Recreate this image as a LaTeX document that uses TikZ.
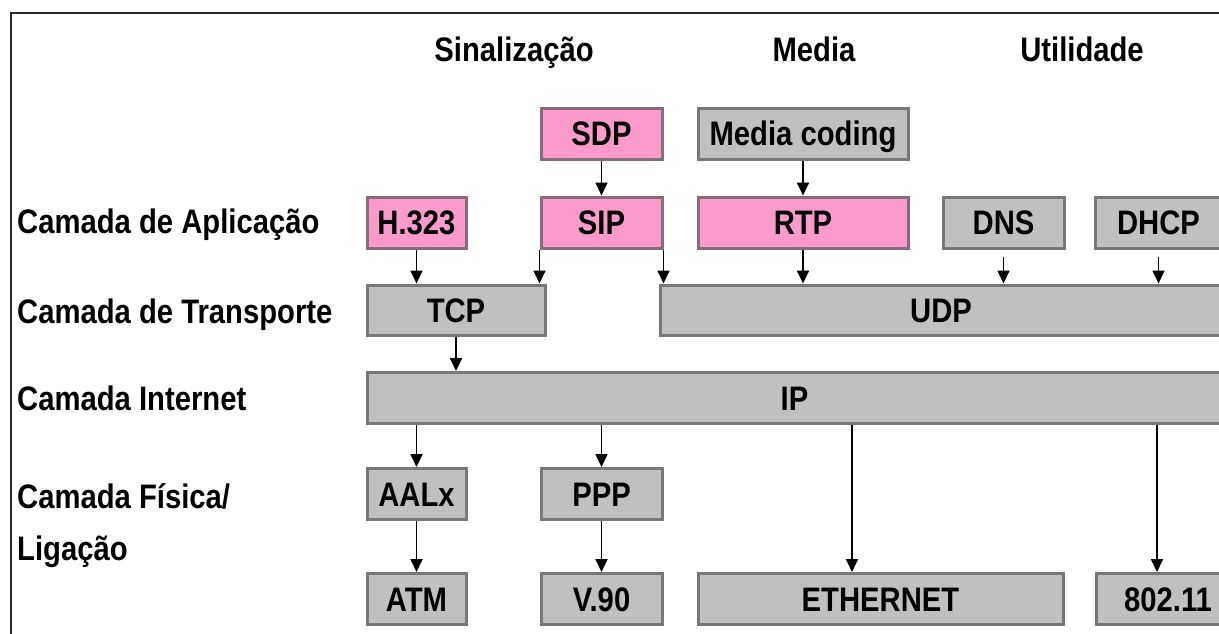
\documentclass[tikz,border=0pt]{standalone}
\usepackage{fontspec}
\setmainfont{Liberation Sans}[FakeStretch=0.86]
\usetikzlibrary{arrows.meta, calc}
\definecolor{rosa}{RGB}{250,155,204}
\definecolor{cinza}{RGB}{192,192,192}
\definecolor{borda}{RGB}{120,120,120}
\definecolor{bordarosa}{RGB}{135,108,124}

\begin{document}
\begin{tikzpicture}[x=1pt, y=-1pt, font=\fontsize{34}{38}\selectfont\bfseries]
		\tikzstyle{caixa} = [draw=borda, fill=cinza, line width=3pt, inner sep=0pt, minimum height=51, text height=24pt, text depth=0pt]
		\tikzstyle{caixarosa} = [caixa, draw=bordarosa, fill=rosa]
		\tikzstyle{seta} = [-{Triangle[length=13pt,width=12pt]}, line width=1.8pt]
		\useasboundingbox (0,0) rectangle (1219,634);
		\clip (0,0) rectangle (1219,634);
		\draw[line width=2.5pt, black!85] (11,640) -- (11,13) -- (1230,13);
		
		% cabecalhos
		\node[anchor=base] (sinal) at (514,62) {Sinalização};
		\node[anchor=base] (media) at (814,62) {Media};
		\node[anchor=base] (util) at (1082,62) {Utilidade};
		\node[anchor=base west, inner sep=0pt] (aplic) at (17,233) {Camada de Aplicação};
		\node[anchor=base west, inner sep=0pt] (transp) at (17,323) {Camada de Transporte};
		\node[anchor=base west, inner sep=0pt] (inet) at (17,410) {Camada Internet};
		\node[anchor=base west, inner sep=0pt] (fisica) at (17,508) {Camada Física/};
		\node[anchor=base west, inner sep=0pt] (ligacao) at (17,560) {Ligação};
		
		% aplicacao
		\node[caixarosa, minimum width=121] (sdp) at (601.5,134) {SDP};
		\node[caixa, minimum width=210] (mcod) at (803,134) {Media coding};
		\node[caixarosa, minimum width=99] (h323) at (416.5,222.5) {H.323};
		\node[caixarosa, minimum width=121] (sip) at (601.5,222.5) {SIP};
		\node[caixarosa, minimum width=210] (rtp) at (803,222.5) {RTP};
		\node[caixa, minimum width=121] (dns) at (1003.5,222.5) {DNS};
		\node[caixa, minimum width=127] (dhcp) at (1158.5,222.5) {DHCP};
		
		% transporte e internet
		\node[caixa, minimum width=178, minimum height=50] (tcp) at (456,310) {TCP};
		\node[caixa, minimum width=562, minimum height=50] (udp) at (941,310) {UDP};
		\node[caixa, minimum width=855] (ip) at (794.5,398) {IP};
		
		% fisica
		\node[caixa, minimum width=99] (aalx) at (416.5,494) {AALx};
		\node[caixa, minimum width=121] (ppp) at (601.5,494) {PPP};
		\node[caixa, minimum width=99] (atm) at (416.5,599) {ATM};
		\node[caixa, minimum width=121] (v90) at (601.5,599) {V.90};
		\node[caixa, minimum width=365] (eth) at (880.5,599) {ETHERNET};
		\node[caixa, minimum width=144] (wifi) at (1168,599) {802.11};
		
		\coordinate (ethx) at (852,0); \coordinate (wifix) at (1157,0);
		\draw[seta] (sdp) -- (sip); \draw[seta] (mcod) -- (rtp);
		\draw[seta] (h323) -- (h323.south |- tcp.north);
		\draw[seta] (sip.south west) -- (sip.south west |- tcp.north);
		\draw[seta] (sip.south east) -- (sip.south east |- udp.north);
		\draw[seta] (rtp) -- (rtp.south |- udp.north);
		\draw[seta] ([yshift=-7pt]dns.south) -- (dns.south |- udp.north);
		\draw[seta] ([yshift=-7pt]dhcp.south) -- (dhcp.south |- udp.north);
		\draw[seta] (tcp) -- (tcp.south |- ip.north);
		\draw[seta] (aalx.north |- ip.south) -- (aalx);
		\draw[seta] (ppp.north |- ip.south) -- (ppp);
		\draw[seta] (aalx) -- (atm); \draw[seta] (ppp) -- (v90);
		\draw[seta] (ethx |- ip.south) -- (ethx |- eth.north);
		\draw[seta] (wifix |- ip.south) -- (wifix |- wifi.north);
\end{tikzpicture}
\end{document}
